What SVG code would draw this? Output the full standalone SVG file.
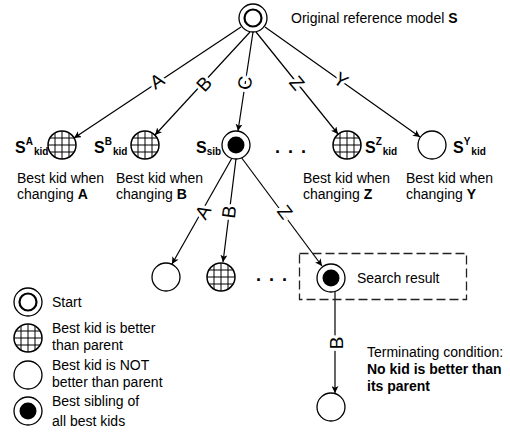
<svg xmlns="http://www.w3.org/2000/svg" xmlns:xlink="http://www.w3.org/1999/xlink" width="510" height="441" viewBox="0 0 510 441">
  <style>
    text { font-family: "Liberation Sans", Arial, sans-serif; fill: #000; }
    .t { font-size: 14px; }
    .b { font-weight: bold; }
    .sym { font-size: 16px; font-weight: bold; }
    .sm { font-size: 10px; font-weight: bold; }
    .lbl { font-size: 19px; text-anchor: middle; dominant-baseline: central; paint-order: stroke; stroke: #fff; stroke-width: 6px; }
    .dots { font-size: 18px; font-weight: bold; letter-spacing: 1.5px; }
    .edge { stroke: #000; stroke-width: 1.2; fill: none; marker-end: url(#arrow); }
    .ring { fill: #fff; stroke: #000; stroke-width: 1.3; }
  </style>
  <defs>
    <marker id="arrow" viewBox="0 0 10 10" refX="10" refY="5" markerWidth="7" markerHeight="7" markerUnits="userSpaceOnUse" orient="auto">
      <path d="M0,0 L10,5 L0,10 L2.5,5 Z" fill="#000"/>
    </marker>
    <clipPath id="disc"><circle r="14"/></clipPath>
    <!-- circle with grid fill: best kid is better than parent -->
    <g id="hatch">
      <circle r="14" fill="#fff"/>
      <path clip-path="url(#disc)" d="M-7,-15V15M0,-15V15M7,-15V15M-15,-7H15M-15,0H15M-15,7H15" stroke="#000" stroke-width="1"/>
      <circle r="14" fill="none" stroke="#000" stroke-width="1.5"/>
    </g>
    <!-- plain circle: best kid is not better than parent -->
    <g id="plain">
      <circle r="14" class="ring"/>
    </g>
    <!-- double ring: start -->
    <g id="start">
      <circle r="14" class="ring"/>
      <circle r="8.5" fill="none" stroke="#000" stroke-width="2.2"/>
    </g>
    <!-- ring with black core: best sibling -->
    <g id="sib">
      <circle r="14" class="ring"/>
      <circle r="8.5" fill="#000"/>
    </g>
  </defs>

  <rect width="510" height="441" fill="#fff"/>

  <!-- connectors -->
  <g id="connectors">
    <line class="edge" x1="241" y1="27" x2="74" y2="138"/>
    <line class="edge" x1="250" y1="32" x2="155" y2="135"/>
    <line class="edge" x1="253" y1="32" x2="238" y2="131"/>
    <line class="edge" x1="256" y1="32" x2="338" y2="134"/>
    <line class="edge" x1="265" y1="27" x2="420" y2="137"/>
    <line class="edge" x1="232" y1="158" x2="172" y2="264"/>
    <line class="edge" x1="236" y1="159" x2="223" y2="262"/>
    <line class="edge" x1="241" y1="157" x2="322" y2="266"/>
    <line class="edge" x1="335" y1="291" x2="335" y2="393"/>
    <text class="lbl" transform="translate(157,81) rotate(-33)">A</text>
    <text class="lbl" transform="translate(204,84) rotate(-47)">B</text>
    <text class="lbl" transform="translate(245,83) rotate(-81)">C</text>
    <text class="lbl" transform="translate(297,83) rotate(50)">Z</text>
    <text class="lbl" transform="translate(341,80) rotate(35)">Y</text>
    <text class="lbl" transform="translate(203,212) rotate(-60)">A</text>
    <text class="lbl" transform="translate(229,212) rotate(-83)">B</text>
    <text class="lbl" transform="translate(285,212) rotate(53)">Z</text>
    <text class="lbl" transform="translate(336,343) rotate(-90)">B</text>
  </g>

  <!-- root -->
  <g id="root">
    <use xlink:href="#start" x="253" y="18"/>
    <text class="t" x="291" y="23">Original reference model <tspan class="b">S</tspan></text>
  </g>

  <!-- first level -->
  <g id="kidA">
    <use xlink:href="#hatch" x="62" y="145"/>
    <text x="15" y="153"><tspan class="sym">S</tspan><tspan class="sm" dy="-8">A</tspan><tspan class="sm" dy="10" dx="1">kid</tspan></text>
    <text class="t" x="17" y="183">Best kid when</text>
    <text class="t" x="17" y="199">changing <tspan class="b">A</tspan></text>
  </g>
  <g id="kidB">
    <use xlink:href="#hatch" x="145" y="145"/>
    <text x="94" y="153"><tspan class="sym">S</tspan><tspan class="sm" dy="-8">B</tspan><tspan class="sm" dy="10" dx="1">kid</tspan></text>
    <text class="t" x="116" y="183">Best kid when</text>
    <text class="t" x="116" y="199">changing <tspan class="b">B</tspan></text>
  </g>
  <g id="sibling">
    <use xlink:href="#sib" x="236" y="145"/>
    <text x="196" y="153"><tspan class="sym">S</tspan><tspan class="sm" dy="2">sib</tspan></text>
  </g>
  <text class="dots" x="275" y="153">. . .</text>
  <g id="kidZ">
    <use xlink:href="#hatch" x="347" y="145"/>
    <text x="365" y="153"><tspan class="sym">S</tspan><tspan class="sm" dy="-8">Z</tspan><tspan class="sm" dy="10" dx="1">kid</tspan></text>
    <text class="t" x="303" y="183">Best kid when</text>
    <text class="t" x="303" y="199">changing <tspan class="b">Z</tspan></text>
  </g>
  <g id="kidY">
    <use xlink:href="#plain" x="432" y="145"/>
    <text x="453" y="153"><tspan class="sym">S</tspan><tspan class="sm" dy="-8">Y</tspan><tspan class="sm" dy="10" dx="1">kid</tspan></text>
    <text class="t" x="406" y="183">Best kid when</text>
    <text class="t" x="406" y="199">changing <tspan class="b">Y</tspan></text>
  </g>

  <!-- second level -->
  <g id="kid2A"><use xlink:href="#plain" x="166" y="277"/></g>
  <g id="kid2B"><use xlink:href="#hatch" x="221" y="277"/></g>
  <text class="dots" x="256" y="281">. . .</text>
  <g id="result">
    <rect x="299.5" y="253.5" width="167" height="46" fill="none" stroke="#222" stroke-width="1.3" stroke-dasharray="9 4"/>
    <use xlink:href="#sib" x="331" y="278"/>
    <text class="t" x="357" y="283">Search result</text>
  </g>

  <!-- third level -->
  <g id="final">
    <use xlink:href="#plain" x="331" y="407"/>
    <text class="t" x="367" y="357">Terminating condition:</text>
    <text class="t b" x="367" y="374">No kid is better than</text>
    <text class="t b" x="367" y="391">its parent</text>
  </g>

  <!-- legend -->
  <g id="legend">
    <use xlink:href="#start" x="28" y="302"/>
    <text class="t" x="52" y="307">Start</text>
    <use xlink:href="#hatch" x="28" y="338"/>
    <text class="t" x="52" y="333">Best kid is better</text>
    <text class="t" x="52" y="350">than parent</text>
    <use xlink:href="#plain" x="28" y="375"/>
    <text class="t" x="52" y="370">Best kid is NOT</text>
    <text class="t" x="52" y="387">better than parent</text>
    <use xlink:href="#sib" x="28" y="411"/>
    <text class="t" x="52" y="406">Best sibling of</text>
    <text class="t" x="52" y="426">all best kids</text>
  </g>
</svg>
